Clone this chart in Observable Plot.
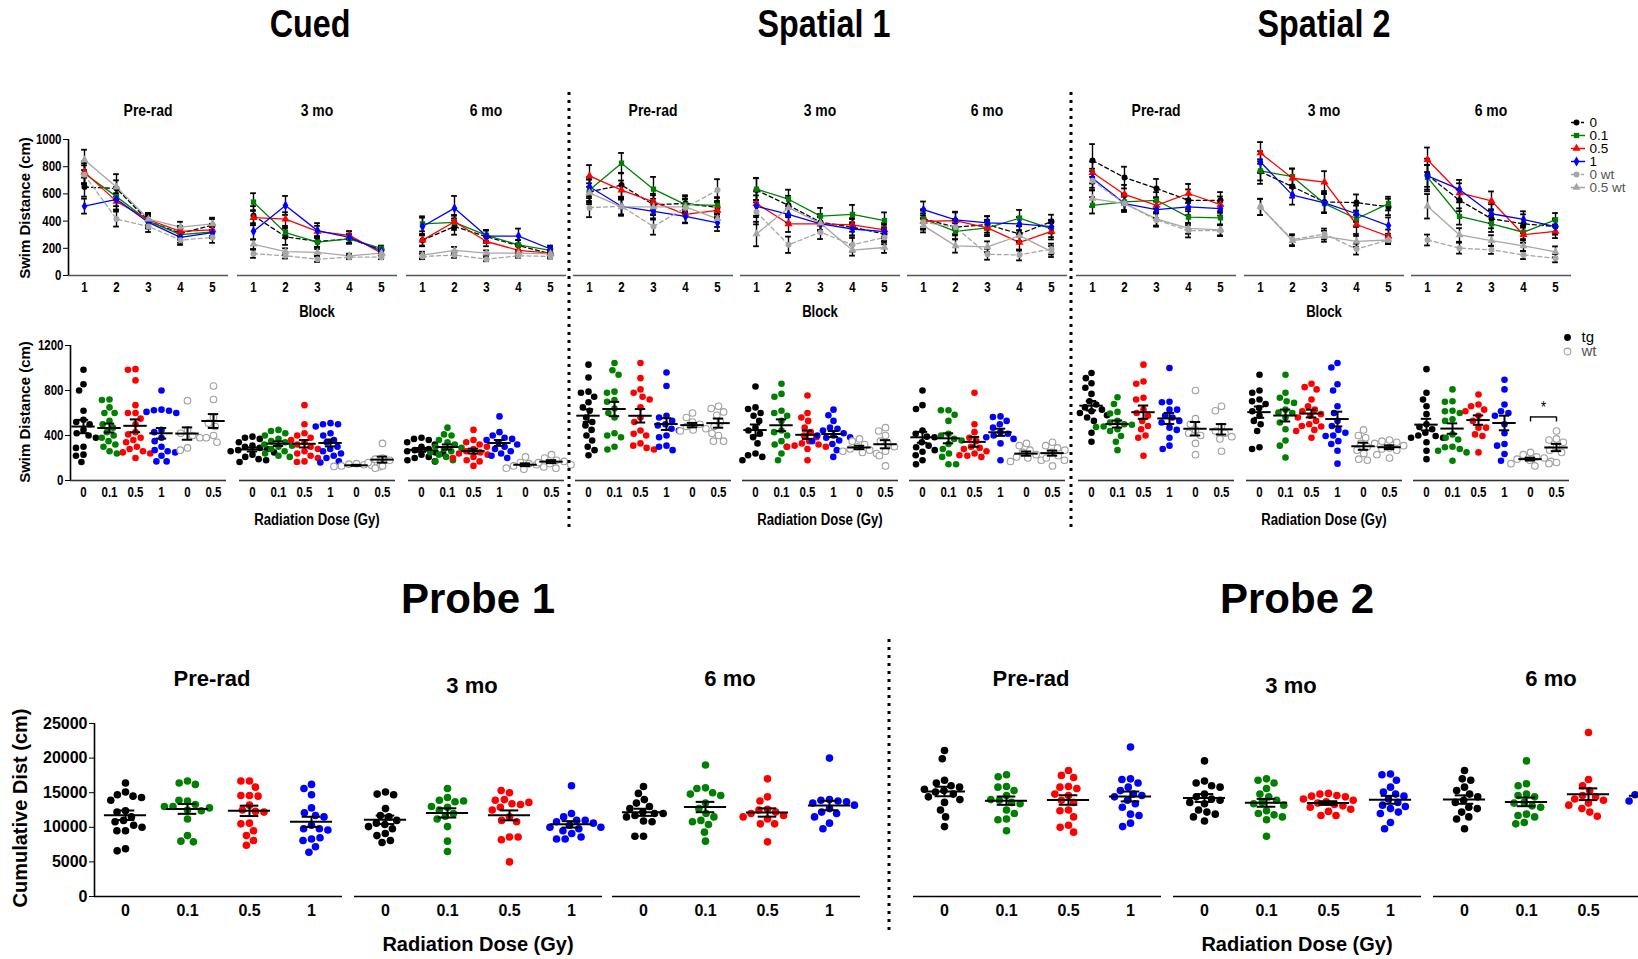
<!DOCTYPE html>
<html><head><meta charset="utf-8">
<script src="https://cdn.jsdelivr.net/npm/d3@7"></script>
<script src="https://cdn.jsdelivr.net/npm/@observablehq/plot@0.6"></script>
<style>
body{margin:0;background:#fff;}
#fig{position:relative;width:1638px;height:959px;overflow:hidden;background:#fff;}
</style></head>
<body><div id="fig"></div>
<script>
// ---------------- DATA ----------------
const sectionNames = ["Cued", "Spatial 1", "Spatial 2"];
const timepoints = ["Pre-rad", "3 mo", "6 mo"];
const blocks = [1, 2, 3, 4, 5];
const seriesNames = ["0", "0.1", "0.5", "1", "0 wt", "0.5 wt"];
const seriesColors = ["#000000", "#008000", "#ff0000", "#0000ff", "#a6a6a6", "#a6a6a6"];
const seriesSymbols = ["circle", "square", "triangle", "diamond", "circle", "triangle"];
const seriesDash = ["4,3", null, null, null, "4,3", null];
const scatterCats = ["0", "0.1", "0.5", "1", "0 wt", "0.5 wt"];
const probeCats = ["0", "0.1", "0.5", "1"];
const swimTicks = [0, 200, 400, 600, 800, 1000];
const scatterTicks = [0, 400, 800, 1200];
const probeTicks = [0, 5000, 10000, 15000, 20000, 25000];
const legendGenotypes = ["tg", "wt"];

// block means [timepoint][series][block]
const cuedLineMeans = [
  [[650,640,400,310,370],[750,580,400,300,320],[760,545,410,325,335],[510,560,390,280,315],[740,415,360,260,280],[850,650,415,355,380]],
  [[440,285,250,270,190],[540,315,245,270,200],[425,415,325,295,165],[325,515,330,280,180],[160,145,120,135,135],[230,175,170,145,165]],
  [[260,360,285,220,160],[380,390,295,225,185],[260,395,250,185,165],[360,495,290,290,195],[140,150,120,145,140],[150,185,165,165,160]]
];
const cuedLineSem = [
  [[70,60,45,45,45],[75,70,50,40,45],[80,60,50,40,45],[55,80,45,40,40],[70,55,40,35,40],[75,95,45,40,45]],
  [[70,60,40,35,25],[65,40,35,30,20],[55,50,40,30,20],[60,70,55,45,25],[30,20,20,15,15],[35,25,25,15,15]],
  [[45,60,45,40,25],[55,55,40,35,25],[40,45,35,30,20],[65,90,45,55,25],[20,20,15,15,15],[25,25,20,20,15]]
];
const spatial1LineMeans = [
  [[615,665,520,530,500],[628,826,635,521,516],[732,628,541,449,479],[653,509,471,434,387],[499,509,360,499,628],[608,504,504,504,417]],
  [[628,516,392,355,305],[635,561,437,449,404],[529,380,380,372,335],[509,449,380,342,323],[466,226,318,226,280],[305,499,385,186,206]],
  [[417,355,375,305,397],[417,325,350,422,342],[397,404,350,243,325],[484,409,387,380,360],[392,355,156,151,194],[367,218,211,293,176]]
];
const spatial1LineSem = [
  [[90,90,70,60,70],[80,75,90,60,60],[80,70,60,60,60],[70,60,60,50,60],[70,70,60,60,80],[70,60,60,60,60]],
  [[90,70,60,60,50],[80,70,60,70,60],[90,60,50,50,50],[80,60,50,50,50],[90,60,50,50,50],[90,70,50,40,40]],
  [[70,60,60,60,50],[60,60,50,60,60],[60,60,60,60,60],[60,60,50,50,50],[50,50,40,40,40],[50,50,40,40,40]]
];
const spatial2LineMeans = [
  [[846,720,640,553,553],[516,541,553,429,424],[757,596,516,603,521],[715,529,484,504,491],[697,529,409,330,330],[566,529,417,347,335]],
  [[764,653,541,536,504],[769,727,529,417,529],[901,715,687,375,288],[834,591,534,454,367],[504,263,305,194,261],[504,256,288,251,261]],
  [[739,553,417,380,360],[722,434,380,318,409],[851,608,548,300,325],[732,633,454,412,360],[261,201,189,151,127],[509,298,256,218,174]]
];
const spatial2LineSem = [
  [[120,80,70,80,60],[60,60,60,60,50],[80,70,60,70,60],[70,60,60,60,50],[70,60,50,50,40],[60,50,50,40,40]],
  [[90,80,80,60,60],[70,60,70,60,50],[80,70,80,70,50],[80,70,70,60,60],[60,40,40,40,30],[60,40,40,40,30]],
  [[120,80,70,70,60],[90,60,60,50,50],[90,70,70,60,50],[80,70,70,60,50],[40,40,30,30,30],[90,50,40,40,40]]
];

// individual animals: swim distance (cm), groups in scatterCats order
const cuedPreScatter = [
  [985,855,800,620,540,520,500,450,420,400,380,300,290,230,220,165],
  [720,715,650,600,600,530,500,470,430,400,380,350,320,300,260,240],
  [990,985,890,670,600,600,550,500,430,410,380,360,340,300,280,260,250,240,200],
  [800,630,625,620,610,600,450,430,380,350,300,270,260,250,220,170,170],
  [710,450,420,400,380,290,270],
  [840,720,560,510,480,400,380,340]
];
const cued3Scatter = [
  [390,380,370,340,310,300,290,280,270,260,250,230,210,190,180,165],
  [450,440,420,400,370,350,340,320,310,300,280,260,240,220,210],
  [670,500,420,400,380,360,340,320,300,280,260,240,220,200,170,165],
  [510,500,500,480,420,400,360,340,300,280,260,240,220,200,170,160],
  [150,145,140,135,130,125,120],
  [330,200,190,180,160,130,110]
];
const cued6Scatter = [
  [380,370,360,340,320,300,280,270,260,250,240,230,210,200,180,170],
  [470,410,400,360,340,320,300,290,280,260,250,230,210,180,170],
  [450,360,340,320,300,280,260,250,240,230,210,200,180,170,130],
  [570,430,400,380,370,360,340,320,300,280,260,240,220,200],
  [210,160,150,140,130,120,110,100],
  [230,200,180,170,160,150,140,110]
];
const spatial1PreScatter = [
  [1030,915,790,780,745,695,650,620,560,520,490,450,400,355,300,270,225],
  [1045,980,940,790,780,715,700,640,600,560,420,400,385,300,275],
  [1045,910,810,780,745,720,650,560,520,445,415,400,330,310,290,275],
  [960,840,575,560,530,500,490,460,445,400,385,310,300,270],
  [600,560,520,500,480,460,450,440,420],
  [660,640,610,580,520,480,400,350,350]
];
const spatial13Scatter = [
  [835,650,635,600,575,530,470,445,415,385,330,240,225,210,180],
  [860,770,745,620,600,575,530,445,430,400,350,320,300,240,180],
  [755,600,560,530,470,430,400,385,350,330,320,310,300,300,280,180],
  [630,580,530,470,460,445,420,400,400,385,380,355,350,325,270,210],
  [370,350,320,300,280,270,260,250,240],
  [470,440,400,350,330,300,260,220,130]
];
const spatial16Scatter = [
  [800,670,635,445,415,390,385,340,310,295,270,255,225,180,145],
  [625,625,585,530,415,400,370,355,325,280,240,210,145,145],
  [780,500,430,380,350,300,290,280,260,240,225,220,210],
  [570,565,530,500,470,430,415,400,385,370,330,180],
  [330,310,270,250,230,210,200,180,170],
  [340,310,290,270,250,220,200,180,130]
];
const spatial2PreScatter = [
  [955,910,865,825,770,705,675,650,630,615,600,580,560,530,425,345],
  [740,680,610,595,530,515,500,495,480,475,455,440,395,345,270],
  [1030,880,860,735,720,630,600,575,530,485,455,400,380,220],
  [1000,700,695,630,630,575,560,530,515,470,450,380,310,280],
  [800,550,500,450,420,400,330,230],
  [660,620,480,440,420,390,370,260]
];
const spatial23Scatter = [
  [940,800,780,720,705,680,645,615,575,530,500,440,295,280],
  [940,780,735,705,690,630,605,600,560,515,455,355,310,205],
  [860,830,810,720,660,630,615,590,575,560,530,500,485,480,450,440,380],
  [1045,1005,855,800,660,600,530,485,450,425,400,395,350,325,265,150],
  [450,400,380,330,300,270,240,190,180],
  [360,350,340,330,310,290,280,270,230,200]
];
const spatial26Scatter = [
  [990,780,720,660,590,500,475,455,425,400,395,380,380,340,265,190],
  [810,705,700,620,615,600,545,530,410,380,365,300,295,280,265,250,175],
  [765,675,660,630,615,575,530,470,470,410,395,250],
  [895,810,675,615,600,575,500,420,325,310,235,175],
  [250,230,210,200,190,180,170,150,130],
  [440,370,360,340,300,270,250,160,150]
];
const spatial26Bracket = {from: "0 wt", to: "0.5 wt", level: 565, drop: 520, label: "*"};

// probe trials: cumulative distance (cm), groups in probeCats order
const probe1Pre = [
  [16400,15100,14700,14500,14300,13900,12400,12200,11500,11000,10800,10300,10000,9500,9500,6900,6600],
  [16700,16400,16200,13800,13900,13300,13000,12500,12400,11200,8800,8000,7900,12800,13000],
  [16700,16700,15800,14600,14600,14500,13200,12500,12300,12200,10600,10500,9500,8800,8100,7400],
  [16200,15600,14700,12800,12100,11700,11500,10300,9800,9800,9600,8300,8100,7200,6400,8500]
];
const probe13 = [
  [15100,14800,14700,12700,11700,11500,11000,10600,10400,10100,9800,9100,8800,8100,7800],
  [15600,14300,13900,13700,12900,12500,12000,11600,11200,10100,8000,6500,13800,13000],
  [15000,15300,14000,13400,12900,13300,12500,11500,11000,10800,8600,8200,8600,5000,13900,13600],
  [16000,12000,11500,11000,11000,10800,10600,10300,10000,9800,9500,9100,8600,8300,8300,10000]
];
const probe16 = [
  [15900,14900,14000,13500,13000,12700,12200,12000,11700,11500,10900,10800,8700,8700,12000],
  [19000,15700,15600,15000,14800,14600,13500,12700,12000,11500,11000,10800,10400,9300,8000],
  [17000,14400,13800,12600,12500,12200,12000,11700,11500,11200,10500,10500,7900],
  [20000,14000,13900,13800,13700,13500,13200,12700,12200,12000,11500,10600,9800]
];
const probe2Pre = [
  [21100,19900,16800,16400,16000,15800,15300,15100,14800,14400,13600,12500,11500,10100,14000,15500],
  [17600,17300,15900,15800,15300,14600,13900,13600,13400,12500,11200,11100,9500,14000,12000],
  [18200,17500,17200,15900,15800,15600,14800,14600,13900,13600,12500,12400,11500,10300,10000,9300],
  [21600,17000,16900,16400,15800,15300,14800,14600,14400,13900,13400,12900,11900,11700,10600,10100]
];
const probe23 = [
  [19600,16700,16400,16000,15800,14800,14400,14100,13900,13600,13400,12500,12200,11900,11500,10900],
  [17000,16800,16400,15600,14800,14400,13900,13600,13400,13200,12400,12000,11800,11500,11100,8700],
  [14900,14800,14600,14500,14400,14100,13900,13700,13500,13300,13100,12900,12600,12300,11700,11700],
  [17700,17600,16800,15800,15100,14800,14500,14100,13600,13200,13000,12700,12200,12000,10700,9800]
];
const probe26 = [
  [18200,17000,16800,15800,15300,14800,14400,13900,13600,12900,12700,12200,11500,11200,9800],
  [19600,16300,16000,14800,14600,14400,13600,13500,13100,12900,11900,11700,11500,10700,10500],
  [23700,16900,16000,15300,14600,14400,14100,13900,13500,13200,12700,12200,11600],
  [17000,16200,15500,15200,14900,14700,14400,14200,13800,13400,12900,12500]
];

// ---------------- LAYOUT ----------------
const ARIAL = '"Liberation Sans",Arial,Helvetica,sans-serif';
const SQUEEZE = 0.82;   // the top part of the figure uses a condensed face
const fig = document.getElementById("fig");

function put(el, left, top) {
  el.style.position = "absolute";
  el.style.left = left + "px";
  el.style.top = top + "px";
  fig.appendChild(el);
}
function label(text, x, y, size, opts = {}) {
  const d = document.createElement("div");
  d.textContent = text;
  let tf = "translate(-50%,-50%)";
  if (opts.rotate) tf += " rotate(-90deg)";
  if (opts.sx) tf += ` scale(${opts.sx},1)`;
  Object.assign(d.style, {
    position: "absolute", left: x + "px", top: y + "px", transform: tf,
    fontSize: size + "px", fontFamily: ARIAL, fontWeight: opts.weight || "bold",
    whiteSpace: "nowrap", lineHeight: "1", color: opts.color || "#000"
  });
  fig.appendChild(d);
}
function narrowText(svg, k) {
  svg.querySelectorAll("text").forEach(t => {
    const x = +t.getAttribute("x") || 0, y = +t.getAttribute("y") || 0;
    const tr = t.getAttribute("transform") || "";
    t.setAttribute("transform", `${tr} translate(${x},${y}) scale(${k},1) translate(${-x},${-y})`);
  });
  return svg;
}
function dottedV(x, y1, y2) {
  const ns = "http://www.w3.org/2000/svg";
  const s = document.createElementNS(ns, "svg");
  s.setAttribute("width", 6); s.setAttribute("height", y2 - y1);
  const l = document.createElementNS(ns, "line");
  l.setAttribute("x1", 3); l.setAttribute("x2", 3); l.setAttribute("y1", 0); l.setAttribute("y2", y2 - y1);
  l.setAttribute("stroke", "#000"); l.setAttribute("stroke-width", 3); l.setAttribute("stroke-dasharray", "3,5");
  s.appendChild(l);
  put(s, x - 3, y1);
}

const topStyle = {fontFamily: ARIAL, fontSize: "14px", fontWeight: "bold", background: "transparent", overflow: "visible", maxWidth: "none"};
const probeStyle = {fontFamily: ARIAL, fontSize: "16px", fontWeight: "bold", background: "transparent", overflow: "visible", maxWidth: "none"};

const panelX = {"Cued": [68, 237, 406], "Spatial 1": [573, 740, 907], "Spatial 2": [1076, 1244, 1411]};
const PW = 160;

function linePanel(means, sems, x0, showY) {
  const mL = 50, mR = 12, mT = 14, mB = 30, H = 136, top = 139;
  const rows = [];
  seriesNames.forEach((s, i) => blocks.forEach((b, j) => rows.push({i, block: b, mean: means[i][j], sem: sems[i][j]})));
  const marks = [
    Plot.ruleY([0], {stroke: "#555", strokeWidth: 1.6}),
    Plot.axisX({ticks: blocks, tickSize: 0, tickPadding: 7, tickFormat: d => String(d), label: null})
  ];
  if (showY) {
    marks.push(Plot.axisY({ticks: swimTicks, tickSize: 5, tickPadding: 2, tickFormat: d => String(d), label: null}));
    marks.push(Plot.ruleX([0.5], {y1: 0, y2: 1000, stroke: "#000", strokeWidth: 1.6}));
  }
  seriesNames.forEach((s, i) => {
    const o = {x: "block", y: "mean", stroke: seriesColors[i], strokeWidth: 1.3};
    if (seriesDash[i]) o.strokeDasharray = seriesDash[i];
    marks.push(Plot.line(rows.filter(d => d.i === i), o));
  });
  marks.push(Plot.ruleX(rows, {x: "block", y1: d => d.mean - d.sem, y2: d => d.mean + d.sem, stroke: "#000", strokeWidth: 1.4}));
  marks.push(Plot.ruleY(rows, {y: d => d.mean + d.sem, x1: d => d.block - 0.09, x2: d => d.block + 0.09, stroke: "#000", strokeWidth: 1.8}));
  marks.push(Plot.ruleY(rows, {y: d => d.mean - d.sem, x1: d => d.block - 0.09, x2: d => d.block + 0.09, stroke: "#000", strokeWidth: 1.8}));
  seriesNames.forEach((s, i) => {
    marks.push(Plot.dot(rows.filter(d => d.i === i), {x: "block", y: "mean", symbol: seriesSymbols[i], fill: seriesColors[i], r: 3}));
  });
  const svg = Plot.plot({
    width: mL + PW + mR, height: mT + H + mB,
    marginLeft: mL, marginRight: mR, marginTop: mT, marginBottom: mB,
    x: {type: "linear", domain: [0.5, 5.5]},
    y: showY ? {domain: [0, 1000]} : {domain: [0, 1000], axis: null},
    style: topStyle, marks
  });
  put(narrowText(svg, SQUEEZE), x0 - mL, top - mT);
}

function dotFill(i) { return i >= 4 ? "#ffffff" : seriesColors[i]; }
function dotStroke(i) { return i >= 4 ? "#a0a0a0" : "none"; }

function scatterPanel(groups, cats, x0, opts) {
  const {W, H, top, yDomain, ticks, showY, r, meanHalf, capHalf, style, mL, bracket, baseColor, squeeze} = opts;
  const mR = 12, mT = 14, mB = 34;
  const pts = [];
  groups.forEach((vals, i) => vals.forEach(v => pts.push({g: cats[i], i, v})));
  const stats = groups.map((vals, i) => ({g: cats[i], mean: d3.mean(vals), sem: d3.deviation(vals) / Math.sqrt(vals.length)}));
  const marks = [
    Plot.ruleY([0], {stroke: baseColor, strokeWidth: 1.6}),
    Plot.dot(pts, Plot.dodgeX("middle", {fx: "g", y: "v", r, padding: 0.3, fill: d => dotFill(d.i), stroke: d => dotStroke(d.i), strokeWidth: 1.1})),
    Plot.ruleY(stats, {fx: "g", y: "mean", x1: -meanHalf, x2: meanHalf, stroke: "#000", strokeWidth: 2}),
    Plot.ruleX(stats, {fx: "g", x: 0, y1: d => d.mean - d.sem, y2: d => d.mean + d.sem, stroke: "#000", strokeWidth: 2}),
    Plot.ruleY(stats, {fx: "g", y: d => d.mean + d.sem, x1: -capHalf, x2: capHalf, stroke: "#000", strokeWidth: 2}),
    Plot.ruleY(stats, {fx: "g", y: d => d.mean - d.sem, x1: -capHalf, x2: capHalf, stroke: "#000", strokeWidth: 2})
  ];
  if (showY) marks.push(Plot.ruleX([cats[0]], {fx: d => d, x: -1, y1: yDomain[0], y2: yDomain[1], stroke: "#000", strokeWidth: 1.6}));
  if (bracket) {
    marks.push(Plot.ruleY([bracket.from], {fx: d => d, y: bracket.level, x1: 0, x2: 1, stroke: "#000", strokeWidth: 1.4}));
    marks.push(Plot.ruleY([bracket.to], {fx: d => d, y: bracket.level, x1: -1, x2: 0, stroke: "#000", strokeWidth: 1.4}));
    marks.push(Plot.ruleX([bracket.from, bracket.to], {fx: d => d, x: 0, y1: bracket.drop, y2: bracket.level, stroke: "#000", strokeWidth: 1.4}));
    marks.push(Plot.text([bracket.from], {fx: d => d, x: 1, y: bracket.level, dy: -9, text: () => bracket.label, fontSize: 16, fontWeight: "normal"}));
  }
  const svg = Plot.plot({
    width: mL + W + mR, height: mT + H + mB,
    marginLeft: mL, marginRight: mR, marginTop: mT, marginBottom: mB,
    fx: {domain: cats, padding: 0, axis: "bottom", tickSize: 0, tickPadding: opts.tickPad, label: null, tickFormat: d => d.replace(" wt", "")},
    x: {domain: [-1, 1], axis: null},
    y: showY ? {domain: yDomain, ticks, tickSize: 5, tickPadding: 2, tickFormat: d => String(d), label: null} : {domain: yDomain, axis: null},
    style, marks
  });
  put(squeeze ? narrowText(svg, squeeze) : svg, x0 - mL, top - mT);
}

// ---------------- TOP SECTION ----------------
const lineData = [[cuedLineMeans, cuedLineSem], [spatial1LineMeans, spatial1LineSem], [spatial2LineMeans, spatial2LineSem]];
const scatterData = [[cuedPreScatter, cued3Scatter, cued6Scatter], [spatial1PreScatter, spatial13Scatter, spatial16Scatter], [spatial2PreScatter, spatial23Scatter, spatial26Scatter]];
const sectionCenters = [310, 824, 1324];

sectionNames.forEach((sec, si) => {
  label(sec, sectionCenters[si], 24, 38, {sx: 0.85});
  panelX[sec].forEach((x0, ti) => {
    linePanel(lineData[si][0][ti], lineData[si][1][ti], x0, si === 0 && ti === 0);
    scatterPanel(scatterData[si][ti], scatterCats, x0, {
      W: PW, H: 135, top: 345, yDomain: [0, 1200], ticks: scatterTicks, showY: si === 0 && ti === 0,
      r: 3.3, meanHalf: 0.9, capHalf: 0.4, style: topStyle, mL: 50, tickPad: 7, baseColor: "#333",
      squeeze: SQUEEZE, bracket: (si === 2 && ti === 2) ? spatial26Bracket : null
    });
    label(timepoints[ti], x0 + PW / 2, 110, 17, {sx: SQUEEZE});
  });
  const mid = panelX[sec][1] + PW / 2;
  label("Block", mid, 312, 16, {sx: SQUEEZE});
  label("Radiation Dose (Gy)", mid, 520, 16, {sx: SQUEEZE});
});
label("Swim Distance (cm)", 24, 208, 15, {rotate: true});
label("Swim Distance (cm)", 24, 412, 15, {rotate: true});
dottedV(569, 92, 532);
dottedV(1071, 92, 532);

// legend for dose series
(function () {
  const marks = [];
  seriesNames.forEach((s, i) => {
    const o = {y: d => d, x1: 0, x2: 14, stroke: seriesColors[i], strokeWidth: 1.5};
    if (seriesDash[i]) o.strokeDasharray = "3,2";
    marks.push(Plot.ruleY([s], o));
    marks.push(Plot.dot([s], {y: d => d, x: 5, symbol: seriesSymbols[i], fill: seriesColors[i], r: 3}));
    marks.push(Plot.text([s], {y: d => d, x: 18, text: d => d, textAnchor: "start", fill: i >= 4 ? "#555" : "#000", fontSize: 13.5, fontWeight: "normal"}));
  });
  const svg = Plot.plot({
    width: 70, height: 100, margin: 0,
    x: {domain: [0, 70], range: [0, 70], axis: null},
    y: {type: "point", domain: seriesNames, range: [6, 86], axis: null},
    style: {fontFamily: ARIAL, background: "transparent", overflow: "visible", maxWidth: "none"}, marks
  });
  put(svg, 1571, 108);
})();
// legend for genotype
(function () {
  const svg = Plot.plot({
    width: 60, height: 50, margin: 0,
    x: {domain: [0, 60], range: [0, 60], axis: null},
    y: {type: "point", domain: legendGenotypes, range: [8, 36], axis: null},
    style: {fontFamily: ARIAL, background: "transparent", overflow: "visible", maxWidth: "none"},
    marks: [
      Plot.dot(legendGenotypes, {y: d => d, x: 4, r: 3.4, fill: d => d === "tg" ? "#000" : "#fff", stroke: d => d === "tg" ? "none" : "#a0a0a0", strokeWidth: 1.1}),
      Plot.text(legendGenotypes, {y: d => d, x: 18, text: d => d, textAnchor: "start", fontSize: 15, fill: d => d === "tg" ? "#000" : "#555"})
    ]
  });
  put(svg, 1563, 322);
})();

// ---------------- PROBES ----------------
const probeX = [[94, 354, 612], [913, 1173, 1433]];
const probeData = [[probe1Pre, probe13, probe16], [probe2Pre, probe23, probe26]];
const probeTitleY = [679, 686, 679];
["Probe 1", "Probe 2"].forEach((name, pi) => {
  probeX[pi].forEach((x0, ti) => {
    scatterPanel(probeData[pi][ti], probeCats, x0, {
      W: 248, H: 173, top: 723, yDomain: [0, 25000], ticks: probeTicks, showY: pi === 0 && ti === 0,
      r: 3.8, meanHalf: 0.68, capHalf: 0.3, style: probeStyle, mL: 70, tickPad: 8, baseColor: "#000"
    });
    label(timepoints[ti], x0 + 118, probeTitleY[ti], 22);
  });
  const mid = probeX[pi][1] + 124;
  label(name, mid, 599, 42);
  label("Radiation Dose (Gy)", mid, 944, 20);
});
label("Cumulative Dist (cm)", 20, 808, 20, {rotate: true});
dottedV(889, 639, 930);
</script>
</body></html>
